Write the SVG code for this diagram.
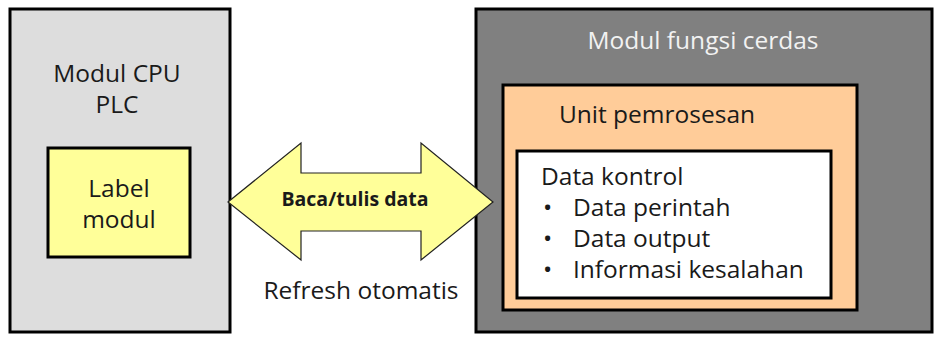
<svg xmlns="http://www.w3.org/2000/svg" width="938" height="341" viewBox="0 0 938 341">
<style>
  text { font-family: "Open Sans", "Noto Sans", "DejaVu Sans", sans-serif; fill: #1a1a1a; }
  .t { font-size: 24.5px; }
  .box { stroke: #000; stroke-width: 3; }
</style>
<rect width="938" height="341" fill="#ffffff"/>
<g id="cpu">
  <rect class="box" x="10" y="9" width="220" height="323" fill="#dddddd"/>
  <text class="t" x="117" y="82" text-anchor="middle">Modul CPU</text>
  <text class="t" x="117" y="113" text-anchor="middle">PLC</text>
</g>
<g id="label">
  <rect class="box" x="48" y="148" width="142" height="109" fill="#ffff99"/>
  <text class="t" x="119" y="197" text-anchor="middle">Label</text>
  <text class="t" x="119" y="228" text-anchor="middle">modul</text>
</g>
<g id="smart">
  <rect class="box" x="476" y="9" width="456" height="323" fill="#808080"/>
  <text class="t" x="703" y="49" text-anchor="middle" style="fill:#f2f2f2">Modul fungsi cerdas</text>
</g>
<g id="unit">
  <rect class="box" x="503" y="85" width="354" height="225" fill="#ffcc99"/>
  <text class="t" x="657" y="123" text-anchor="middle">Unit pemrosesan</text>
</g>
<g id="data">
  <rect class="box" x="517" y="151" width="314" height="147" fill="#ffffff"/>
  <text class="t" x="541" y="185">Data kontrol</text>
  <text class="t" x="543" y="216">•</text>
  <text class="t" x="573" y="216">Data perintah</text>
  <text class="t" x="543" y="247">•</text>
  <text class="t" x="573" y="247">Data output</text>
  <text class="t" x="543" y="278">•</text>
  <text class="t" x="573" y="278">Informasi kesalahan</text>
</g>
<g id="connectors">
  <polygon points="228,202 301,143 301,173 421,173 421,143 493,202 421,260 421,231 301,231 301,260" fill="#ffff99" stroke="#222" stroke-width="1.2" stroke-linejoin="miter"/>
  <text x="355" y="206" text-anchor="middle" style="font-size:19.5px;font-weight:bold">Baca/tulis data</text>
  <text class="t" x="361" y="299" text-anchor="middle">Refresh otomatis</text>
</g>
</svg>
